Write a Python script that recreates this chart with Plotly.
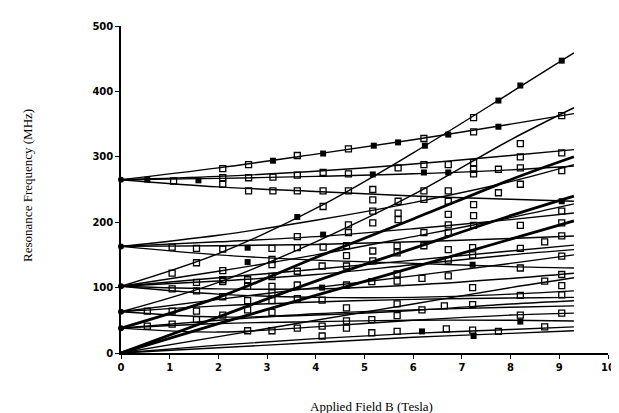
import plotly.graph_objects as go

# Field grid at which each curve's frequency was read (Tesla)
B_grid = [0, 2, 4, 6, 8, 9.3]

# Theory curves: frequency (MHz) read at B_grid
curves = {
    "A1": [265, 283, 304, 326, 350, 366],
    "A2": [265, 270, 278, 289, 302, 311],
    "A3": [265, 267, 270, 274, 280, 286],
    "A4": [265, 254, 247, 240, 235, 232],
    "S1": [102, 152, 221, 306, 398, 459],
    "S2": [63, 108, 170, 242, 326, 375],
    "B1": [163, 180, 203, 230, 262, 288],
    "B2": [163, 170, 178, 190, 204, 214],
    "B3": [163, 164, 166, 170, 175, 179],
    "B4": [163, 150, 142, 137, 132, 130],
    "C1": [102, 125, 150, 178, 207, 228],
    "C2": [102, 115, 128, 142, 156, 165],
    "C3": [102, 110, 120, 135, 150, 158],
    "C4": [102, 98, 98, 104, 114, 122],
    "C5": [102, 90, 85, 85, 90, 95],
    "D1": [63, 82, 100, 118, 137, 150],
    "D2": [63, 72, 78, 82, 84, 85],
    "D3": [63, 55, 58, 65, 75, 80],
    "E1": [38, 50, 60, 66, 70, 72],
    "E2": [38, 32, 40, 50, 58, 61],
    "E3": [38, 45, 48, 50, 50, 49],
    "F1": [0, 25, 50, 75, 100, 115],
    "F2": [0, 12, 22, 30, 36, 40],
    "F3": [0, 8, 16, 24, 30, 34],
}
thick_curves = {
    "T1": [38, 85, 146, 205, 265, 300],
    "T2": [0, 45, 88, 131, 174, 202],
    "T3": [0, 55, 110, 160, 210, 240],
}

# Measured points (open squares)
open_B = [1.08, 2.09, 2.09, 2.09, 2.62, 2.62, 2.62, 3.12, 3.12,
          1.05, 1.55, 2.09, 3.1, 3.1, 3.1, 1.55, 1.05, 2.09, 2.09, 2.09, 2.6, 2.6,
          3.1, 3.1, 3.1, 3.1, 2.6, 2.09, 1.55, 1.55, 1.05, 0.54, 1.05, 1.55, 1.55,
          2.09, 2.6, 3.1, 0.54, 1.05, 2.6, 3.1,
          3.62, 4.67, 6.22, 7.24, 3.62, 4.15, 4.67, 5.69, 6.22, 6.72, 7.24, 7.24,
          7.24, 7.75, 3.62, 4.15, 4.67, 5.17, 5.17, 5.69, 6.22, 6.22, 6.72, 6.72,
          7.24, 7.75, 4.15, 5.17, 5.69, 5.69, 5.17, 4.67, 6.72, 7.24, 6.72, 7.24,
          6.22, 6.72, 3.62, 4.67, 3.62, 4.15, 4.63, 4.63, 5.17, 5.67, 5.67, 6.22,
          6.72, 6.72, 7.22, 7.22, 3.62, 4.13, 4.63, 5.17, 5.67, 6.18, 6.72, 7.22,
          3.62, 4.63, 5.15, 5.67, 3.62, 4.13, 5.67, 6.18, 6.64, 7.22, 4.63, 4.63,
          5.15, 5.67, 4.13, 4.63, 5.15, 5.67, 6.68, 7.22, 7.75, 3.62, 4.13,
          7.24, 9.05, 9.05, 9.05, 9.05, 9.05, 9.05, 9.05, 9.05, 9.05, 9.05, 9.05,
          8.2, 8.2, 8.2, 8.2, 8.2, 8.2, 8.2, 8.2, 8.2, 8.7, 8.7, 8.7]
open_f = [263, 282, 268, 258, 288, 268, 248, 269, 248,
          162, 160, 159, 160, 143, 135, 138, 122, 126, 112, 109, 112, 102,
          117, 102, 92, 80, 80, 86, 95, 108, 98, 64, 64, 64, 51,
          58, 66, 62, 41, 44, 34, 34,
          302, 312, 328, 338, 272, 276, 274, 283, 288, 288, 291, 281,
          274, 281, 248, 248, 248, 250, 234, 232, 248, 235, 248, 232,
          227, 245, 224, 217, 214, 204, 199, 196, 212, 210, 196, 195,
          184, 184, 178, 184, 161, 162, 164, 149, 156, 164, 153, 164,
          158, 142, 161, 150, 125, 133, 133, 141, 121, 114, 118, 100,
          104, 104, 109, 110, 83, 81, 75, 66, 72, 74, 69, 49,
          51, 57, 41, 38, 31, 33, 37, 35, 33, 38, 26,
          360, 363, 306, 279, 217, 199, 179, 148, 120, 103, 89, 61,
          320, 300, 283, 258, 195, 160, 130, 88, 58, 170, 110, 40]

# Measured points (filled squares)
filled_B = [0.54, 1.59, 3.12, 2.6, 2.6, 4.15, 5.19, 5.69, 6.72, 7.75, 6.24,
            7.75, 6.22, 6.72, 3.62, 4.15, 7.22, 4.13, 6.18, 9.05, 9.05, 5.17,
            8.2, 8.2, 7.24]
filled_f = [265, 264, 294, 161, 139, 305, 317, 322, 334, 346, 317,
            386, 276, 276, 208, 181, 135, 100, 33, 447, 232, 273,
            409, 48, 26]

# Zero-field frequencies (MHz)
zero_field_f = [265, 163, 102, 63, 38]

fig = go.Figure()
for name, vals in curves.items():
    fig.add_trace(go.Scatter(x=B_grid, y=vals, mode="lines", name=name,
                             line=dict(color="black", width=1.4, shape="spline"),
                             showlegend=False, hoverinfo="skip"))
for name, vals in thick_curves.items():
    fig.add_trace(go.Scatter(x=B_grid, y=vals, mode="lines", name=name,
                             line=dict(color="black", width=2.8, shape="spline"),
                             showlegend=False, hoverinfo="skip"))
fig.add_trace(go.Scatter(x=open_B, y=open_f, mode="markers", showlegend=False,
                         marker=dict(symbol="square-open", size=6, color="black",
                                     line=dict(width=1.3, color="black"))))
fig.add_trace(go.Scatter(x=filled_B, y=filled_f, mode="markers", showlegend=False,
                         marker=dict(symbol="square", size=6, color="black")))
fig.add_trace(go.Scatter(x=[0] * len(zero_field_f), y=zero_field_f, mode="markers",
                         showlegend=False, cliponaxis=False,
                         marker=dict(symbol="circle", size=6, color="black")))

tickfont = dict(family="DejaVu Sans", size=10, color="black", weight="bold")
fig.update_layout(
    width=619, height=413,
    margin=dict(l=113, r=12, t=18, b=68),
    paper_bgcolor="white", plot_bgcolor="white",
    xaxis=dict(range=[0, 10], tickvals=list(range(0, 11)), showline=True,
               linecolor="black", linewidth=1.5, ticks="outside", ticklen=4,
               tickcolor="black", showgrid=False, zeroline=False, tickfont=tickfont),
    yaxis=dict(range=[0, 500], tickvals=[0, 100, 200, 300, 400, 500], showline=True,
               linecolor="black", linewidth=1.5, ticks="outside", ticklen=4,
               tickcolor="black", showgrid=False, zeroline=False, tickfont=tickfont),
    annotations=[
        dict(text="Applied Field B (Tesla)", xref="paper", yref="paper",
             x=0.515, y=-0.165, showarrow=False, xanchor="center", yanchor="middle",
             font=dict(family="Liberation Serif", size=13, color="black")),
        dict(text="Resonance Frequency (MHz)", xref="paper", yref="paper",
             x=-0.191, y=0.514, showarrow=False, textangle=-90, xanchor="center",
             yanchor="middle", font=dict(family="Liberation Serif", size=13, color="black")),
    ],
)
fig.write_html("out.html")
